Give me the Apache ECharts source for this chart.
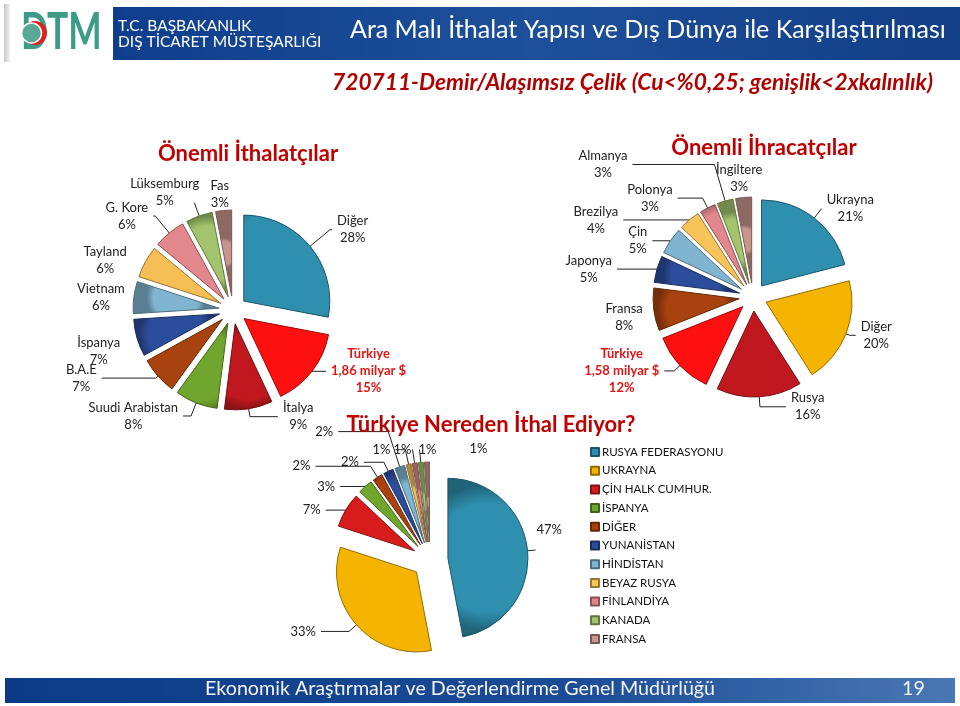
<!DOCTYPE html>
<html>
<head>
<meta charset="utf-8">
<title>720711 - Demir/Alaşımsız Çelik</title>
<script src="https://cdn.jsdelivr.net/npm/echarts@6/dist/echarts.min.js"></script>
<style>
  html, body { margin: 0; padding: 0; background: #fff; }
  #chart { width: 960px; height: 706px; }
</style>
</head>
<body>
<div id="chart"></div>
<script>
// Önemli İthalatçılar (share %)
const importNames = ['Diğer', 'Türkiye', 'İtalya', 'Suudi Arabistan', 'B.A.E', 'İspanya', 'Vietnam', 'Tayland', 'G. Kore', 'Lüksemburg', 'Fas']
const importShares = [28, 15, 9, 8, 7, 7, 6, 6, 6, 5, 3]
const importTurkey = '1,86 milyar $'

// Önemli İhracatçılar (share %)
const exportNames = ['Ukrayna', 'Diğer', 'Rusya', 'Türkiye', 'Fransa', 'Japonya', 'Çin', 'Brezilya', 'Polonya', 'Almanya', 'İngiltere']
const exportShares = [21, 20, 16, 12, 8, 5, 5, 4, 3, 3, 3]
const exportTurkey = '1,58 milyar $'

// Türkiye Nereden İthal Ediyor? (share %)
const sourceNames = ['RUSYA FEDERASYONU', 'UKRAYNA', 'ÇİN HALK CUMHUR.', 'İSPANYA', 'DİĞER', 'YUNANİSTAN', 'HİNDİSTAN', 'BEYAZ RUSYA', 'FİNLANDİYA', 'KANADA', 'FRANSA']
const sourceShares = [47, 33, 7, 3, 2, 2, 2, 1, 1, 1, 1]

// slice colours (style only)
const importColors = ['#2f8fae', '#ff1010', '#c0181e', '#70a52e', '#a8420f', '#2c4c9c', '#80b5d2', '#f6bf55', '#e2888c', '#a3c46c', '#c8968c']
const exportColors = ['#2f8fae', '#f5b400', '#c0181e', '#ff1010', '#a8420f', '#2c4c9c', '#80b5d2', '#f6c458', '#e2888c', '#a3c46c', '#c8968c']
const sourceColors = ['#2f8fae', '#f5b400', '#d81c1c', '#70a52e', '#a8420f', '#2c4c9c', '#80b5d2', '#f6c458', '#e2888c', '#a3c46c', '#c8968c']

// leader line [length, length2, shown] and label nudge [dx, dy, align] per slice (style only)
const importLines = [[26, 2, 1], [0, 14, 1], [8, 28, 1], [14, 8, 1], [3, 54, 1], [4, 8, 0], [2, 2, 0], [4, 10, 0], [22, 2, 1], [14, 0, 1], [16, 0, 0]]
const importNudge = [[0, 0], [0, 0], [0, 0], [0, 0], [0, 0], [0, 12], [0, 0], [0, 0], [0, 0], [10, -10], [12, 0]]
const exportLines = [[12, 0, 1], [4, 6, 1], [10, 26, 1], [8, 10, 1], [2, 4, 0], [0, 40, 1], [0, 18, 1], [0, 66, 1], [11, 25, 1], [38, 82, 1], [12, 0, 0]]
const exportNudge = [[0, 0], [0, 0], [0, 0], [0, 0], [0, 8], [0, 0], [0, 0], [0, 0], [0, 0], [0, 0], [25, -7]]
const sourceLines = [[8, 0, 1], [10, 28, 1], [0, 20, 1], [0, 25, 1], [13, 55, 1], [10, 20, 1], [37, 50, 1], [15, 10, 1], [14, 0, 1], [13, 0, 1], [13, 0, 0]]
const sourceNudge = [[-4, -20], [0, 0], [0, 0], [0, 0], [0, 0], [0, 0], [0, 0], [0, 0], [4, 0], [4, 0, 'left'], [48, 0, 'left']]

const FONT = 'Lato, "Noto Sans", sans-serif'
const RED = '#c00000'

function shade(hex, k) {
  const n = parseInt(hex.slice(1), 16)
  const r = Math.min(255, Math.round(((n >> 16) & 255) * k))
  const g = Math.min(255, Math.round(((n >> 8) & 255) * k))
  const b = Math.min(255, Math.round((n & 255) * k))
  return 'rgb(' + r + ',' + g + ',' + b + ')'
}

function items(names, values, colors, lines) {
  return names.map((name, i) => ({
    name: name,
    value: values[i],
    selected: true,
    labelLine: { show: !!lines[i][2], length: lines[i][0], length2: lines[i][1] },
    itemStyle: {
      color: {
        type: 'radial', x: 0.5, y: 0.5, r: 0.9,
        colorStops: [
          { offset: 0, color: shade(colors[i], 1.0) },
          { offset: 0.75, color: colors[i] },
          { offset: 1, color: shade(colors[i], 0.7) }
        ]
      },
      borderColor: shade(colors[i], 0.6),
      borderWidth: 1
    }
  }))
}

function turkeyLabel(extra) {
  return function (p) {
    if (p.name === 'Türkiye') {
      return '{t|Türkiye}\n{t|' + extra + '}\n{t|' + p.value + '%}'
    }
    return '{n|' + p.name + '}\n{n|' + p.value + '%}'
  }
}

function nudge(table) {
  return function (p) {
    const d = table[p.dataIndex]
    const out = { dx: d[0], dy: d[1] }
    if (d[2]) out.align = d[2]
    return out
  }
}

const labelRich = {
  n: { fontFamily: FONT, fontSize: 13, color: '#222', lineHeight: 17, align: 'center' },
  t: { fontFamily: FONT, fontSize: 13, fontWeight: 'bold', color: '#e31414', lineHeight: 17, align: 'center' }
}

const chart = echarts.init(document.getElementById('chart'))

chart.setOption({
  animation: false,
  textStyle: { fontFamily: FONT },
  title: [
    {
      text: '720711-Demir/Alaşımsız Çelik (Cu<%0,25; genişlik<2xkalınlık)',
      right: 22, top: 66,
      textStyle: { fontFamily: FONT, fontSize: 22.7, fontStyle: 'italic', fontWeight: 'bold', color: '#b00000' }
    },
    {
      text: 'Önemli İthalatçılar',
      left: 243, top: 138, textAlign: 'center',
      textStyle: { fontFamily: FONT, fontSize: 22, fontWeight: 'bold', color: RED }
    },
    {
      text: 'Önemli İhracatçılar',
      left: 759, top: 132, textAlign: 'center',
      textStyle: { fontFamily: FONT, fontSize: 22, fontWeight: 'bold', color: RED }
    },
    {
      text: 'Türkiye Nereden İthal Ediyor?',
      left: 486, top: 409, textAlign: 'center',
      textStyle: { fontFamily: FONT, fontSize: 22, fontWeight: 'bold', color: RED }
    }
  ],
  legend: {
    data: sourceNames,
    orient: 'vertical',
    left: 585, top: 441,
    icon: 'rect',
    itemWidth: 8, itemHeight: 8,
    itemGap: 6.7,
    selectedMode: false,
    textStyle: { fontFamily: FONT, fontSize: 11.5, color: '#111', padding: [0, 0, 0, -2] }
  },
  graphic: [
    // header band
    {
      type: 'rect', shape: { x: 113, y: 7, width: 847, height: 53 },
      style: {
        fill: { type: 'linear', x: 0, y: 0, x2: 1, y2: 0, colorStops: [
          { offset: 0, color: '#0f3f8c' }, { offset: 0.5, color: '#1e4f9a' }, { offset: 1, color: '#123f86' }
        ] }
      }
    },
    {
      type: 'text', left: 118, top: 18,
      style: { text: 'T.C. BAŞBAKANLIK\nDIŞ TİCARET MÜSTEŞARLIĞI', fill: '#fff', font: '15.5px ' + FONT, lineHeight: 16 }
    },
    {
      type: 'text', left: 350, top: 17,
      style: { text: 'Ara Malı İthalat Yapısı ve Dış Dünya ile Karşılaştırılması', fill: '#fff', font: '25px ' + FONT }
    },
    // logo
    {
      type: 'rect', shape: { x: 4, y: 4, width: 6, height: 58 },
      style: { fill: { type: 'linear', x: 0, y: 0, x2: 1, y2: 0, colorStops: [
        { offset: 0, color: '#c8c8c8' }, { offset: 1, color: '#f2f2f2' }
      ] } }
    },
    {
      type: 'text', x: 21, y: 6, scaleX: 0.68,
      style: { text: 'DTM', fill: '#3c9c88', font: 'bold 52px ' + FONT }
    },
    {
      type: 'circle', shape: { cx: 35, cy: 33, r: 12 },
      style: { fill: '#e02020' }
    },
    {
      type: 'circle', shape: { cx: 31.5, cy: 33, r: 10 },
      style: { fill: '#5aa896', stroke: '#fff', lineWidth: 1.5 }
    },
    // footer band
    {
      type: 'rect', shape: { x: 5, y: 678, width: 950, height: 25 },
      style: {
        fill: { type: 'linear', x: 0, y: 0, x2: 1, y2: 0, colorStops: [
          { offset: 0, color: '#0b3a86' }, { offset: 0.6, color: '#1c4c96' }, { offset: 1, color: '#4a78b4' }
        ] }
      }
    },
    {
      type: 'text', left: 205, top: 679,
      style: { text: 'Ekonomik Araştırmalar ve Değerlendirme Genel Müdürlüğü', fill: '#f2f4f8', font: '19.7px ' + FONT }
    },
    {
      type: 'text', left: 902, top: 679,
      style: { text: '19', fill: '#f2f4f8', font: '19.7px ' + FONT }
    }
  ],
  series: [
    {
      name: 'Önemli İthalatçılar',
      type: 'pie',
      center: [233, 310],
      radius: [0, 86],
      startAngle: 90,
      selectedMode: 'multiple',
      selectedOffset: 14,
      avoidLabelOverlap: false,
      label: { formatter: turkeyLabel(importTurkey), rich: labelRich },
      labelLine: { lineStyle: { color: '#222', width: 1 } },
      labelLayout: nudge(importNudge),
      emphasis: { disabled: true },
      data: items(importNames, importShares, importColors, importLines)
    },
    {
      name: 'Önemli İhracatçılar',
      type: 'pie',
      center: [753, 297],
      radius: [0, 86],
      startAngle: 90,
      selectedMode: 'multiple',
      selectedOffset: 14,
      avoidLabelOverlap: false,
      label: { formatter: turkeyLabel(exportTurkey), rich: labelRich },
      labelLine: { lineStyle: { color: '#222', width: 1 } },
      labelLayout: nudge(exportNudge),
      emphasis: { disabled: true },
      data: items(exportNames, exportShares, exportColors, exportLines)
    },
    {
      name: 'Türkiye Nereden İthal Ediyor?',
      type: 'pie',
      center: [430, 560],
      radius: [0, 80],
      startAngle: 90,
      selectedMode: 'multiple',
      selectedOffset: 18,
      avoidLabelOverlap: false,
      label: { formatter: '{c}%', fontFamily: FONT, fontSize: 13, color: '#222' },
      labelLine: { lineStyle: { color: '#222', width: 1 } },
      labelLayout: nudge(sourceNudge),
      emphasis: { disabled: true },
      data: items(sourceNames, sourceShares, sourceColors, sourceLines)
    }
  ]
})
</script>
</body>
</html>
